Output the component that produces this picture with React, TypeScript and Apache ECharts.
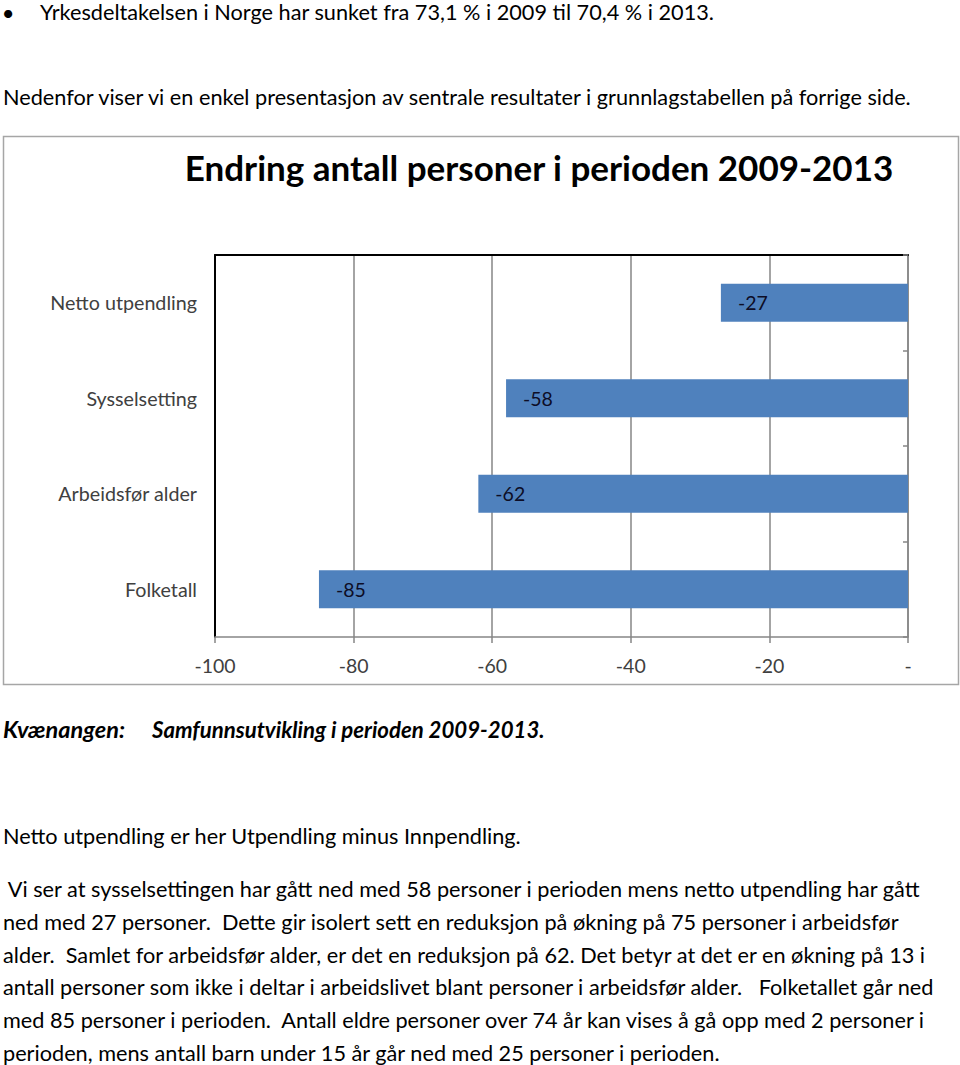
import React, { useEffect, useRef } from "react";
import * as echarts from "echarts";

const categories = ["Netto utpendling", "Sysselsetting", "Arbeidsfør alder", "Folketall"];
const values = [-27, -58, -62, -85];
const axisMin = -100;
const axisMax = 0;
const axisStep = 20;

const chartTitle = "Endring antall personer i perioden 2009-2013";
const bulletLine = "Yrkesdeltakelsen i Norge har sunket fra 73,1 % i 2009 til 70,4 % i 2013.";
const introLine = "Nedenfor viser vi en enkel presentasjon av sentrale resultater i grunnlagstabellen på forrige side.";
const captionLabel = "Kvænangen:";
const captionText = "Samfunnsutvikling i perioden 2009-2013.";
const noteLine = "Netto utpendling er her Utpendling minus Innpendling.";
const paragraphLines = [
  " Vi ser at sysselsettingen har gått ned med 58 personer i perioden mens netto utpendling har gått",
  "ned med 27 personer.  Dette gir isolert sett en reduksjon på økning på 75 personer i arbeidsfør",
  "alder.  Samlet for arbeidsfør alder, er det en reduksjon på 62. Det betyr at det er en økning på 13 i",
  "antall personer som ikke i deltar i arbeidslivet blant personer i arbeidsfør alder.   Folketallet går ned",
  "med 85 personer i perioden.  Antall eldre personer over 74 år kan vises å gå opp med 2 personer i",
  "perioden, mens antall barn under 15 år går ned med 25 personer i perioden.",
];

const FONT = "Lato, 'Open Sans', sans-serif";
const BODY = 21.7;
const CHART_FONT = 19.5;

export default function App() {
  const ref = useRef<HTMLDivElement>(null);
  useEffect(() => {
    document.body.style.margin = "0";
    if (!ref.current) return;
    const chart = echarts.init(ref.current, null, { renderer: "svg" });
    const txt = (text: string, x: number, y: number, extra: any = {}) => ({
      type: "text",
      x,
      y,
      z: 10,
      style: {
        text,
        fontFamily: FONT,
        fontSize: BODY,
        lineHeight: 22,
        fill: "#000",
        align: "left",
        verticalAlign: "middle",
        ...extra,
      },
    });
    const graphic: any[] = [
      {
        type: "rect",
        z: -1,
        shape: { x: 3.5, y: 136.5, width: 955, height: 548 },
        style: { fill: "#fff", stroke: "#a6a6a6", lineWidth: 1.5 },
      },
      txt("•", 8, 12, { align: "center", fontSize: 22 }),
      txt(bulletLine, 40, 12),
      txt(introLine, 3, 97),
      txt(chartTitle, 539, 167, { align: "center", fontSize: 35, lineHeight: 40, fontWeight: "bold" }),
      txt(captionLabel, 3, 729, { fontWeight: "bold", fontStyle: "italic", fontSize: 23.5 }),
      txt(captionText, 152, 729, { fontWeight: "bold", fontStyle: "italic", fontSize: 22.2 }),
      txt(noteLine, 3, 836),
      ...paragraphLines.map((l, i) => txt(l, 3, 889 + i * 32.8)),
    ];
    chart.setOption({
      animation: false,
      graphic,
      grid: { left: 215, right: 52, top: 255, bottom: 428 },
      xAxis: [
        {
          type: "value",
          position: "bottom",
          min: axisMin,
          max: axisMax,
          interval: axisStep,
          axisLine: { show: true, lineStyle: { color: "#868686", width: 1.5 } },
          axisTick: { show: true, length: 6, lineStyle: { color: "#868686", width: 1.5 } },
          splitLine: { show: true, lineStyle: { color: "#868686", width: 1.5 } },
          axisLabel: {
            margin: 18,
            fontFamily: FONT,
            fontSize: CHART_FONT,
            color: "#404040",
            formatter: (v: number) => (v === 0 ? "-" : String(v)),
          },
        },
        {
          type: "value",
          position: "top",
          min: axisMin,
          max: axisMax,
          interval: axisStep,
          axisLine: { show: true, lineStyle: { color: "#000", width: 2 } },
          axisTick: { show: false },
          splitLine: { show: false },
          axisLabel: { show: false },
        },
      ],
      yAxis: [
        {
          type: "category",
          data: categories,
          inverse: true,
          position: "left",
          axisLine: { show: true, onZero: false, lineStyle: { color: "#000", width: 2 } },
          axisTick: { show: false },
          axisLabel: { margin: 18, fontFamily: FONT, fontSize: 19.7, color: "#404040" },
        },
        {
          type: "category",
          data: categories,
          inverse: true,
          position: "right",
          axisLine: { show: true, onZero: false, lineStyle: { color: "#868686", width: 1.5 } },
          axisTick: { show: true, inside: true, length: 5, lineStyle: { color: "#868686", width: 1.5 } },
          axisLabel: { show: false },
        },
      ],
      series: [
        {
          type: "bar",
          xAxisIndex: 0,
          yAxisIndex: 0,
          data: values,
          barWidth: 38,
          itemStyle: { color: "#4F81BD" },
          label: {
            show: true,
            position: "insideLeft",
            distance: 17,
            fontFamily: FONT,
            fontSize: CHART_FONT,
            color: "#0d0d26",
          },
        },
      ],
    });
    return () => chart.dispose();
  }, []);
  return <div ref={ref} style={{ width: 960, height: 1065 }} />;
}
